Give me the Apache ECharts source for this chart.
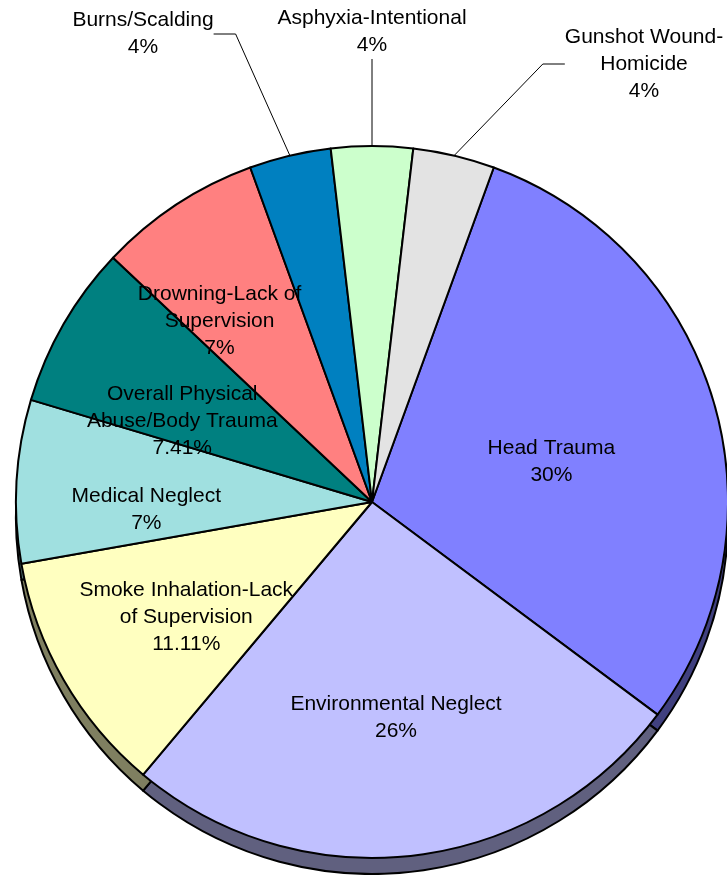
<!DOCTYPE html>
<html>
<head>
<meta charset="utf-8">
<script src="https://cdn.jsdelivr.net/npm/echarts@6/dist/echarts.min.js"></script>
<style>
  html, body { margin: 0; padding: 0; background: #fff; }
  #chart { width: 727px; height: 875px; }
</style>
</head>
<body>
<div id="chart"></div>
<script>
// slice names as printed on the chart (line breaks as in the picture)
var categories = [
  'Head Trauma',
  'Environmental Neglect',
  'Smoke Inhalation-Lack\nof Supervision',
  'Medical Neglect',
  'Overall Physical\nAbuse/Body Trauma',
  'Drowning-Lack of\nSupervision',
  'Burns/Scalding',
  'Asphyxia-Intentional',
  'Gunshot Wound-\nHomicide'
];
var deaths = [8, 7, 3, 2, 2, 2, 1, 1, 1];
var pctLabels = ['30%', '26%', '11.11%', '7%', '7.41%', '7%', '4%', '4%', '4%'];

var sliceColors = ['#8080FF', '#C0C0FF', '#FFFFC0', '#A0E0E0', '#008080', '#FF8080', '#0080C0', '#CCFFCC', '#E3E3E3'];

// nudges for the labels that sit inside the slices
var labelShift = { 0: [6, 12], 1: [3, 36], 2: [-29, 25], 3: [-45, 18], 4: [-33, 10], 5: [-53, -30] };
// small slices get their label outside, with a leader line
var outsideSpot = { 6: [143, 34], 7: [372, 32], 8: [644, 64] };

// side of the pie is half as bright as the top
function darken(hex) {
  var n = parseInt(hex.slice(1), 16);
  var r = (n >> 16) >> 1, g = ((n >> 8) & 255) >> 1, b = (n & 255) >> 1;
  return 'rgb(' + r + ',' + g + ',' + b + ')';
}

var chart = echarts.init(document.getElementById('chart'));

var option = {
  backgroundColor: '#fff',
  animation: false,
  series: [
    {
      // the 3d rim, a copy moved down under the top face
      type: 'pie',
      silent: true,
      center: [372, 518],
      radius: 356,
      startAngle: 70,
      label: { show: false },
      labelLine: { show: false },
      itemStyle: { borderColor: '#000', borderWidth: 2 },
      data: deaths.map(function (v, i) {
        return { value: v, name: categories[i], itemStyle: { color: darken(sliceColors[i]) } };
      })
    },
    {
      type: 'pie',
      center: [372, 502],
      radius: 356,
      startAngle: 70,
      avoidLabelOverlap: false,
      itemStyle: { borderColor: '#000', borderWidth: 2 },
      emphasis: { disabled: true },
      label: {
        show: true,
        position: 'inside',
        color: '#000',
        fontFamily: 'Liberation Sans',
        fontSize: 21,
        lineHeight: 27,
        align: 'center',
        formatter: function (p) {
          return categories[p.dataIndex] + '\n' + pctLabels[p.dataIndex];
        }
      },
      labelLine: { show: false },
      labelLayout: function (params) {
        var i = params.dataIndex;
        if (outsideSpot[i]) {
          return { x: outsideSpot[i][0], y: outsideSpot[i][1], align: 'center', verticalAlign: 'middle' };
        }
        var s = labelShift[i] || [0, 0];
        return { dx: s[0], dy: s[1] };
      },
      data: deaths.map(function (v, i) {
        var item = { value: v, name: categories[i], itemStyle: { color: sliceColors[i] } };
        if (outsideSpot[i]) {
          item.label = { position: 'outside' };
          item.labelLine = { show: true, length: 20, length2: 22, lineStyle: { color: '#000', width: 1 } };
        }
        return item;
      })
    }
  ]
};

chart.setOption(option);
</script>
</body>
</html>
